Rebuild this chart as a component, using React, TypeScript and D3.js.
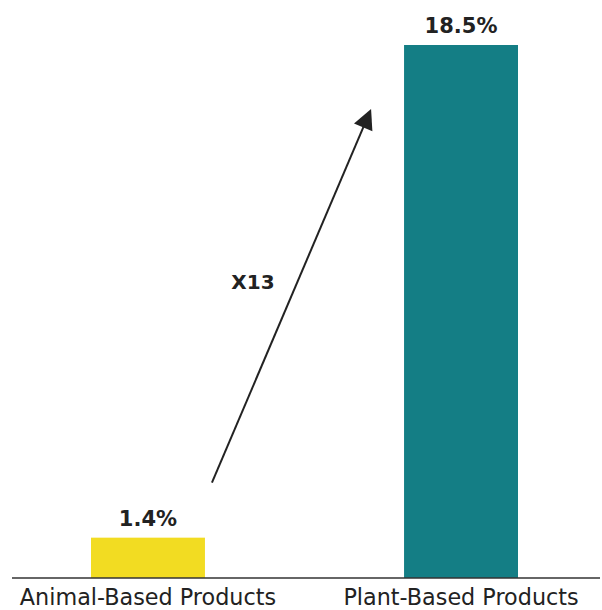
import React from "react";
import * as d3 from "d3";

const categories = ["Animal-Based Products", "Plant-Based Products"];
const values = [1.4, 18.5];
const valueLabels = ["1.4%", "18.5%"];
const colors = ["#F2DC22", "#147E85"];
const multiplierLabel = "X13";

const W = 602;
const H = 610;
const FONT = "'DejaVu Sans', 'Noto Sans', sans-serif";

export default function App() {
  const baseline = 578;
  const x = d3.scaleBand<string>().domain(categories).range([91, 518]).paddingInner(0.636).paddingOuter(0);
  const y = d3.scaleLinear().domain([0, d3.max(values) as number]).range([baseline, 45]);
  const bw = x.bandwidth();

  // arrow anchored relative to the bars
  const x0 = (x(categories[0]) as number) + bw + 7;
  const y0 = y(values[0]) - 55;
  const x1 = (x(categories[1]) as number) - 33;
  const y1 = y(values[1]) + 64;
  const dx = x1 - x0, dy = y1 - y0;
  const len = Math.hypot(dx, dy);
  const ux = dx / len, uy = dy / len;
  const headLen = 20, headW = 10;
  const bx = x1 - ux * headLen, by = y1 - uy * headLen;
  const px = -uy, py = ux;
  const head = `M${x1},${y1}L${bx + px * headW},${by + py * headW}L${bx - px * headW},${by - py * headW}Z`;

  return (
    <svg width={W} height={H} style={{ position: "absolute", left: 0, top: 0 }} fontFamily={FONT}>
      <rect width={W} height={H} fill="#fff" />
      {categories.map((c, i) => (
        <g key={c}>
          <rect x={x(c)} y={y(values[i])} width={bw} height={baseline - y(values[i])} fill={colors[i]} />
          <text x={(x(c) as number) + bw / 2} y={y(values[i]) - 12} textAnchor="middle" fontWeight="bold" fontSize={21} fill="#222">
            {valueLabels[i]}
          </text>
          <text x={(x(c) as number) + bw / 2} y={604.5} textAnchor="middle" fontSize={22.3} fill="#222">
            {c}
          </text>
        </g>
      ))}
      <line x1={12} x2={600} y1={baseline} y2={baseline} stroke="#333" strokeWidth={1.5} />
      <line x1={x0} y1={y0} x2={bx + ux * 2} y2={by + uy * 2} stroke="#222" strokeWidth={2} />
      <path d={head} fill="#222" />
      <text x={253} y={289} textAnchor="middle" fontWeight="bold" fontSize={20} fill="#222">
        {multiplierLabel}
      </text>
    </svg>
  );
}
